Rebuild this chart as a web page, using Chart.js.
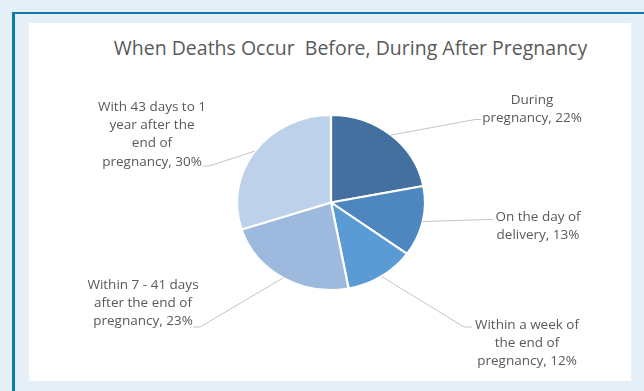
<!DOCTYPE html>
<html>
<head>
<meta charset="utf-8">
<script src="https://cdn.jsdelivr.net/npm/chart.js@4.4.1/dist/chart.umd.min.js"></script>
<style>
  html, body { margin: 0; padding: 0; }
  body { width: 644px; height: 391px; background: #e4eff7; position: relative; overflow: hidden; font-family: "Open Sans", sans-serif; }
  #frameTop { position: absolute; left: 12px; top: 12px; width: 632px; height: 2px; background: #127aa6; }
  #frameLeft { position: absolute; left: 12px; top: 12px; width: 3px; height: 379px; background: #127aa6; }
  #panel { position: absolute; left: 29px; top: 23px; width: 602px; height: 358px; background: #ffffff; }
  #title { position: absolute; left: 0; width: 701px; top: 36px; line-height: 24px; text-align: center;
           font-size: 19.5px; color: #595959; white-space: pre; }
  #wrap { position: absolute; left: 0; top: 0; width: 644px; height: 391px; }
</style>
</head>
<body>
<div id="frameTop"></div>
<div id="frameLeft"></div>
<div id="panel"></div>
<div id="title">When Deaths Occur  Before, During After Pregnancy</div>
<div id="wrap"><canvas id="c" width="644" height="391"></canvas></div>

<script>
// Timing of pregnancy-related deaths (share of all deaths, %)
const labelLines = [
  ['During', 'pregnancy'],
  ['On the day of', 'delivery'],
  ['Within a week of', 'the end of', 'pregnancy'],
  ['Within 7 - 41 days', 'after the end of', 'pregnancy'],
  ['With 43 days to 1', 'year after the', 'end of', 'pregnancy']
];
const categories = labelLines.map(lines => lines.join(' '));
const shares = [22, 13, 12, 23, 30];
const sliceColors = ['#44709f', '#4e87bf', '#5b9bd5', '#9dbade', '#bed1eb'];

// Where each callout sits: text centre, first line centre, and the leader's elbow/end
const calloutLayout = [
  { x: 532, y: 100, elbow: [475, 119.5], end: [481, 119.5] },
  { x: 538, y: 217, elbow: [487, 219.5], end: [493, 219.5] },
  { x: 527, y: 325, elbow: [464, 327], end: [472, 327] },
  { x: 143, y: 285, elbow: [200, 327], end: [193, 327] },
  { x: 152, y: 107, elbow: [209, 166], end: [203, 166] }
];

const STRETCH_X = 94 / 87.5;

// Slightly widen the pie horizontally around its centre
const pieShape = {
  id: 'pieShape',
  beforeDatasetsDraw(chart) {
    const arc = chart.getDatasetMeta(0).data[0];
    const ctx = chart.ctx;
    ctx.save();
    ctx.translate(arc.x, arc.y);
    ctx.scale(STRETCH_X, 1);
    ctx.translate(-arc.x, -arc.y);
  },
  afterDatasetsDraw(chart) {
    chart.ctx.restore();
  }
};

// Leader lines and wrapped category labels
const calloutLabels = {
  id: 'calloutLabels',
  afterDraw(chart) {
    const ctx = chart.ctx;
    const arcs = chart.getDatasetMeta(0).data;
    const values = chart.data.datasets[0].data;
    ctx.save();
    arcs.forEach((arc, i) => {
      const mid = (arc.startAngle + arc.endAngle) / 2;
      const px = arc.x + Math.cos(mid) * arc.outerRadius * STRETCH_X;
      const py = arc.y + Math.sin(mid) * arc.outerRadius;
      const lay = calloutLayout[i];
      ctx.strokeStyle = '#c4c4c4';
      ctx.lineWidth = 1;
      ctx.beginPath();
      ctx.moveTo(px, py);
      ctx.lineTo(lay.elbow[0], lay.elbow[1]);
      ctx.lineTo(lay.end[0], lay.end[1]);
      ctx.stroke();

      const lines = labelLines[i].slice();
      lines[lines.length - 1] += ', ' + values[i] + '%';
      ctx.fillStyle = '#595959';
      ctx.font = '13.5px "Open Sans", sans-serif';
      ctx.textAlign = 'center';
      ctx.textBaseline = 'middle';
      lines.forEach((t, k) => ctx.fillText(t, lay.x, lay.y + k * 18.3));
    });
    ctx.restore();
  }
};

new Chart(document.getElementById('c'), {
  type: 'pie',
  data: {
    labels: categories,
    datasets: [{
      data: shares,
      backgroundColor: sliceColors,
      borderColor: '#ffffff',
      borderWidth: 2,
      hoverOffset: 0
    }]
  },
  options: {
    responsive: false,
    animation: false,
    radius: 87.5,
    layout: { padding: { left: 118, right: 100, top: 64, bottom: 50 } },
    plugins: {
      legend: { display: false },
      tooltip: { enabled: false },
      title: { display: false }
    },
    events: []
  },
  plugins: [pieShape, calloutLabels]
});
</script>
</body>
</html>
